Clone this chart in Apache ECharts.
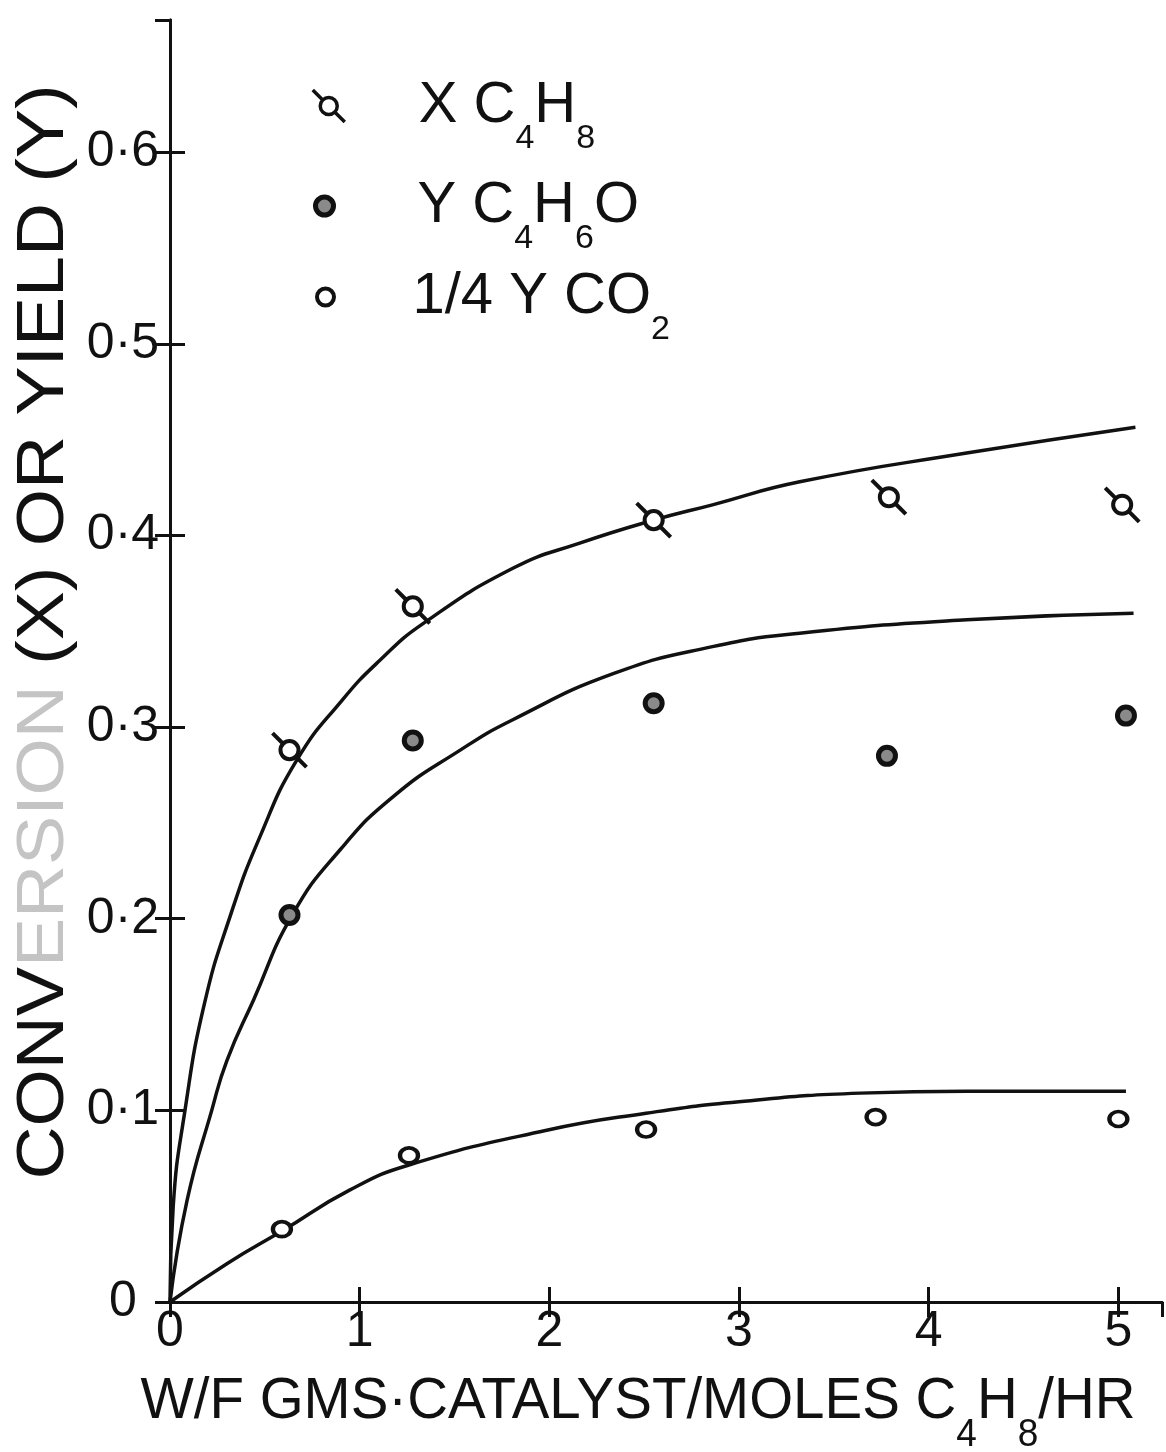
<!DOCTYPE html>
<html>
<head>
<meta charset="utf-8">
<script src="https://cdn.jsdelivr.net/npm/echarts@6/dist/echarts.min.js"></script>
<style>
html,body{margin:0;padding:0;background:#fff;}
#chart{width:1166px;height:1452px;}
</style>
</head>
<body>
<div id="chart"></div>
<script>
// ---- data ----
const xTickLabels = ['0', '1', '2', '3', '4', '5'];
const yTickLabels = ['0', '0·1', '0·2', '0·3', '0·4', '0·5', '0·6'];

// measured points [W/F, value]
const pointsXC4H8 = [[0.63, 0.288], [1.28, 0.363], [2.55, 0.408], [3.79, 0.420], [5.02, 0.416]];
const pointsYC4H6O = [[0.63, 0.202], [1.28, 0.293], [2.55, 0.3125], [3.78, 0.285], [5.04, 0.306]];
const pointsCO2 = [[0.59, 0.038], [1.26, 0.0765], [2.51, 0.090], [3.72, 0.0965], [5.00, 0.0955]];

// hand-drawn fitted curves
const curveXC4H8 = [[0, 0], [0.017, 0.05], [0.079, 0.100], [0.18, 0.155], [0.316, 0.201], [0.475, 0.243],
  [0.670, 0.283], [0.907, 0.314], [1.108, 0.335], [1.334, 0.354], [1.81, 0.383], [2.16, 0.396],
  [2.55, 0.408], [2.86, 0.416], [3.32, 0.428], [4.20, 0.443], [5.09, 0.4565]];
const curveYC4H6O = [[0, 0], [0.09, 0.053], [0.22, 0.100], [0.30, 0.126], [0.44, 0.1575], [0.645, 0.202],
  [0.897, 0.236], [1.18, 0.264], [1.53, 0.288], [1.81, 0.304], [2.34, 0.328], [2.86, 0.342],
  [3.32, 0.349], [4.20, 0.356], [5.08, 0.3594]];
const curveCO2 = [[0, 0], [0.30, 0.020], [0.59, 0.037], [0.949, 0.0585], [1.26, 0.0715], [1.98, 0.0895],
  [2.51, 0.0985], [3.0, 0.1045], [3.64, 0.109], [4.2, 0.110], [5.04, 0.110]];

const seriesNames = ['X C4H8', 'Y C4H6O', '1/4 Y CO2'];

// ---- styling ----
const NARROW = '"Liberation Sans Narrow", "Liberation Sans", sans-serif';
const SANS = '"Liberation Sans", sans-serif';
const INK = '#111';
const xSymbol = 'path://M0 0L10 10M22 22L32 32M7.5 16A8.5 8.5 0 1 1 24.5 16A8.5 8.5 0 1 1 7.5 16Z';

function measure(tokens) {
  const c = document.createElement('canvas').getContext('2d');
  let w = 0;
  tokens.forEach(t => { c.font = t[1] + 'px ' + t[2]; w += c.measureText(t[0]).width; });
  return w;
}

// legend rich text (subscripts hang below the capitals)
const legRich = {
  m: {fontSize: 58, fontFamily: NARROW, color: INK, verticalAlign: 'middle', lineHeight: 60},
  s: {fontSize: 34, fontFamily: NARROW, color: INK, verticalAlign: 'top', lineHeight: 36, padding: [46, 0, 0, 0]},
  sp1: {width: 69, height: 10},
  sp2: {width: 79, height: 10},
  sp3: {width: 72, height: 10}
};
const legendTexts = [
  '{sp1|}{m|X C}{s|4}{m|H}{s|8}',
  '{sp2|}{m|Y C}{s|4}{m|H}{s|6}{m|O}',
  '{sp3|}{m|1/4 Y CO}{s|2}'
];

// axis titles
const xTitleTokens = [['W/F GMS·CATALYST/MOLES C', 58, NARROW], ['4', 38, NARROW], ['H', 58, NARROW], ['8', 38, NARROW], ['/HR', 58, NARROW]];
const xTitleScale = 995 / measure(xTitleTokens);
const yTitleTokens = [['CONVERSION (X) OR YIELD (Y)', 66, NARROW]];
const yTitleScale = 1095 / measure(yTitleTokens);

const axisCommon = {
  type: 'value', min: 0,
  axisLine: {show: true, lineStyle: {color: INK, width: 3}},
  splitLine: {show: false},
  axisTick: {show: true, inside: true, length: 15, lineStyle: {color: INK, width: 3}}
};
const X_MAX = 5.23, Y_MAX = 0.669;

function xLabel(v) {
  const i = Math.round(v);
  return Math.abs(v - i) < 1e-6 && i < xTickLabels.length ? xTickLabels[i] : '';
}
function yLabel(v) {
  const i = Math.round(v * 10);
  return Math.abs(v * 10 - i) < 1e-6 && i < yTickLabels.length ? yTickLabels[i] : '';
}

const chart = echarts.init(document.getElementById('chart'), null, {renderer: 'canvas'});
const lineStyle = {color: INK, width: 3.5};

const option = {
  backgroundColor: '#fff',
  animation: false,
  grid: {left: 170, right: 4, top: 20, bottom: 150, containLabel: false, outerBoundsMode: 'none'},
  xAxis: [
    Object.assign({}, axisCommon, {position: 'bottom', max: X_MAX, interval: 1,
      axisLabel: {show: true, formatter: xLabel, fontSize: 50, fontFamily: SANS, color: INK, margin: 5, showMaxLabel: false}}),
    Object.assign({}, axisCommon, {position: 'top', max: X_MAX, interval: 1, axisLabel: {show: false}})
  ],
  yAxis: [
    Object.assign({}, axisCommon, {position: 'left', max: Y_MAX, interval: 0.1,
      axisLabel: {show: true, formatter: yLabel, fontSize: 50, fontFamily: SANS, color: INK, margin: 47, align: 'center', showMaxLabel: false}}),
    Object.assign({}, axisCommon, {position: 'right', max: Y_MAX, interval: 0.1, axisLabel: {show: false}})
  ],
  legend: legendTexts.map((t, i) => ({
    orient: 'vertical',
    left: [311, 313, 315][i],
    top: [76, 176, 267][i],
    padding: 0,
    itemWidth: [32, 18, 20][i],
    itemHeight: [32, 18, 17][i],
    selectedMode: false,
    data: [{
      name: seriesNames[i],
      icon: [xSymbol, 'circle', 'circle'][i],
      itemStyle: [{color: '#fff', borderColor: INK, borderWidth: 3.5},
                  {color: '#8a8a8a', borderColor: INK, borderWidth: 5},
                  {color: '#fff', borderColor: INK, borderWidth: 4}][i]
    }],
    formatter: () => t,
    textStyle: {rich: legRich}
  })),
  series: [
    {type: 'line', data: curveXC4H8, smooth: 0.5, symbol: 'none', lineStyle: lineStyle, silent: true, z: 2},
    {type: 'line', data: curveYC4H6O, smooth: 0.5, symbol: 'none', lineStyle: lineStyle, silent: true, z: 2},
    {type: 'line', data: curveCO2, smooth: 0.5, symbol: 'none', lineStyle: lineStyle, silent: true, z: 2},
    {name: seriesNames[0], type: 'scatter', data: pointsXC4H8, symbol: xSymbol, symbolSize: 34, z: 5,
      itemStyle: {color: '#fff', borderColor: INK, borderWidth: 4, opacity: 1}},
    {name: seriesNames[1], type: 'scatter', data: pointsYC4H6O, symbol: 'circle', symbolSize: 17, z: 5,
      itemStyle: {color: '#8a8a8a', borderColor: INK, borderWidth: 5, opacity: 1}},
    {name: seriesNames[2], type: 'scatter', data: pointsCO2, symbol: 'circle', symbolSize: [18, 15], z: 5,
      itemStyle: {color: '#fff', borderColor: INK, borderWidth: 4, opacity: 1}}
  ],
  graphic: [
    {
      type: 'text', x: 638, y: 1402, scaleX: xTitleScale,
      style: {
        text: '{m|W/F GMS·CATALYST/MOLES C}{s|4}{m|H}{s|8}{m|/HR}',
        align: 'center', verticalAlign: 'middle',
        rich: {
          m: {fontSize: 58, fontFamily: NARROW, fill: INK, color: INK, verticalAlign: 'middle', lineHeight: 60},
          s: {fontSize: 38, fontFamily: NARROW, fill: INK, color: INK, verticalAlign: 'top', lineHeight: 40, padding: [45, 0, 0, 0]}
        }
      }
    },
    {
      type: 'text', x: 45, y: 632, rotation: Math.PI / 2, scaleX: yTitleScale,
      style: {
        text: '{a|CONV}{b|ERSION}{a| (X) OR YIELD (Y)}',
        align: 'center', verticalAlign: 'middle',
        rich: {
          a: {fontSize: 66, fontFamily: NARROW, fill: INK, color: INK},
          b: {fontSize: 66, fontFamily: NARROW, fill: '#c4c4c4', color: '#c4c4c4'}
        }
      }
    }
  ]
};
chart.setOption(option);
</script>
</body>
</html>
